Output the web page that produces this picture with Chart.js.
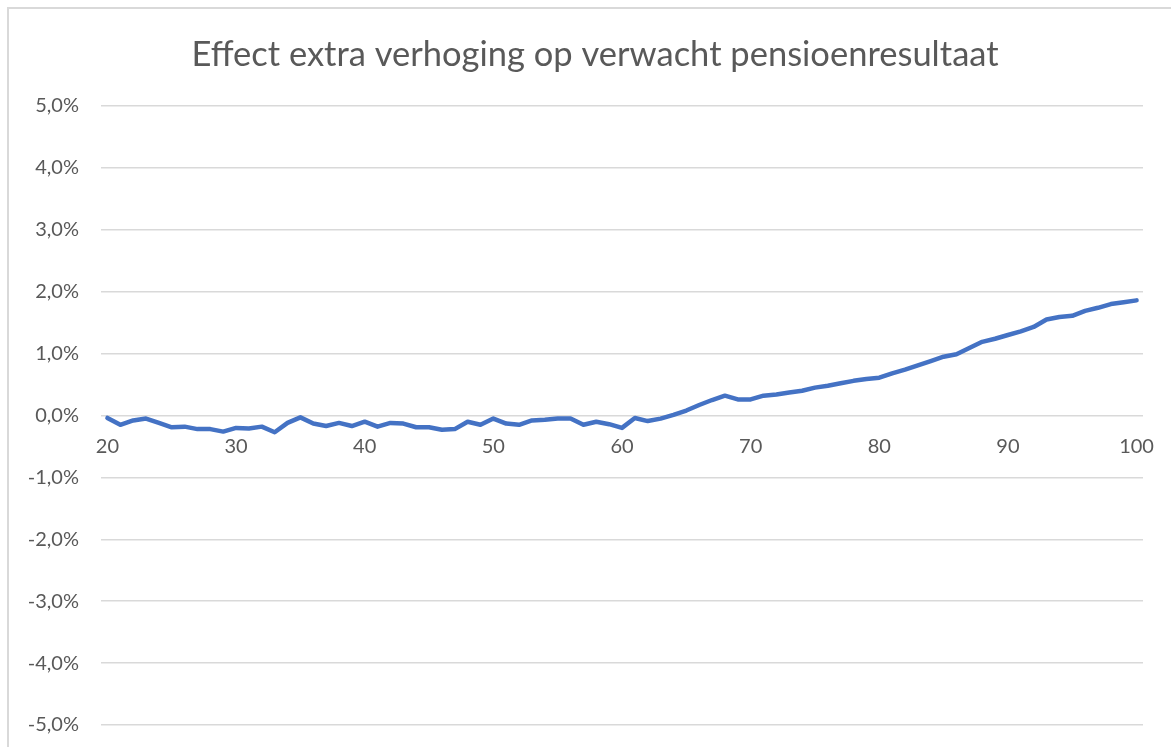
<!DOCTYPE html>
<html>
<head>
<meta charset="utf-8">
<script src="https://cdn.jsdelivr.net/npm/chart.js@4"></script>
<style>
  html, body { margin: 0; padding: 0; background: #fff; overflow: hidden; }
  #frame { position: absolute; left: 7px; top: 7px; width: 1300px; height: 900px;
           border: 2px solid #d9d9d9; box-sizing: border-box; }
  #wrap { position: absolute; left: 0; top: 0; width: 1171px; height: 747px; }
</style>
</head>
<body>
<div id="frame"></div>
<div id="wrap"><canvas id="lineChart" width="1171" height="747"></canvas></div>
<script>
// leeftijd (x-as)
var ages = [20, 21, 22, 23, 24, 25, 26, 27, 28, 29,
            30, 31, 32, 33, 34, 35, 36, 37, 38, 39,
            40, 41, 42, 43, 44, 45, 46, 47, 48, 49,
            50, 51, 52, 53, 54, 55, 56, 57, 58, 59,
            60, 61, 62, 63, 64, 65, 66, 67, 68, 69,
            70, 71, 72, 73, 74, 75, 76, 77, 78, 79,
            80, 81, 82, 83, 84, 85, 86, 87, 88, 89,
            90, 91, 92, 93, 94, 95, 96, 97, 98, 99, 100];

// effect in procenten
var effect = [-0.04, -0.15, -0.08, -0.05, -0.12, -0.19, -0.18, -0.22, -0.22, -0.26,
              -0.20, -0.21, -0.18, -0.27, -0.12, -0.03, -0.13, -0.17, -0.12, -0.17,
              -0.10, -0.18, -0.12, -0.13, -0.19, -0.19, -0.23, -0.22, -0.10, -0.15,
              -0.05, -0.13, -0.15, -0.08, -0.07, -0.05, -0.05, -0.15, -0.10, -0.14,
              -0.20, -0.04, -0.09, -0.05, 0.01, 0.08, 0.17, 0.25, 0.32, 0.26,
              0.26, 0.32, 0.34, 0.37, 0.40, 0.45, 0.48, 0.52, 0.56, 0.59,
              0.61, 0.68, 0.74, 0.81, 0.88, 0.95, 0.99, 1.09, 1.19, 1.24,
              1.30, 1.36, 1.43, 1.55, 1.59, 1.61, 1.69, 1.74, 1.80, 1.83, 1.86];

var yMin = -5;
var yMax = 5;
var title = 'Effect extra verhoging op verwacht pensioenresultaat';

var grey = '#595959';
var fontName = 'Lato, "Open Sans", sans-serif';

// titel gecentreerd boven het hele kader (niet alleen boven de plot)
var titlePlugin = {
    id: 'frameTitle',
    afterDraw: function (chart) {
        var ctx = chart.ctx;
        ctx.save();
        ctx.font = 'normal 34.5px ' + fontName;
        ctx.fillStyle = grey;
        ctx.textAlign = 'center';
        ctx.textBaseline = 'middle';
        ctx.fillText(title, 595, 54.5);
        ctx.restore();
    }
};

var context = document.getElementById('lineChart').getContext('2d');
var myChart = new Chart(context, {
    type: 'line',
    data: {
        labels: ages,
        datasets: [{
            label: 'effect',
            data: effect,
            borderColor: '#4472C4',
            backgroundColor: '#4472C4',
            borderWidth: 4.5,
            borderJoinStyle: 'round',
            borderCapStyle: 'round',
            pointRadius: 0,
            tension: 0,
            fill: false
        }]
    },
    plugins: [titlePlugin],
    options: {
        responsive: false,
        animation: false,
        layout: {
            padding: { left: 0, right: 28, top: 106, bottom: 22 }
        },
        plugins: {
            legend: { display: false },
            tooltip: { enabled: false },
            title: { display: false }
        },
        scales: {
            x: {
                type: 'category',
                position: { y: 0 },
                offset: true,
                grid: { display: false, drawTicks: false },
                border: { display: false },
                afterFit: function (scale) {
                    scale.height = 0;
                    scale.paddingLeft = 0;
                    scale.paddingRight = 0;
                    scale.paddingTop = 0;
                    scale.paddingBottom = 0;
                },
                ticks: {
                    autoSkip: false,
                    maxRotation: 0,
                    padding: 19,
                    color: grey,
                    font: { family: fontName, size: 20 },
                    callback: function (value) {
                        var a = this.getLabelForValue(value);
                        return a % 10 === 0 ? String(a) : null;
                    }
                }
            },
            y: {
                min: yMin,
                max: yMax,
                grid: { color: '#d9d9d9', lineWidth: 1.5, drawTicks: false },
                border: { display: false },
                afterFit: function (scale) {
                    scale.width = 101;
                    scale.paddingTop = 0;
                    scale.paddingBottom = 0;
                },
                ticks: {
                    stepSize: 1,
                    padding: 22,
                    color: grey,
                    font: { family: fontName, size: 20 },
                    callback: function (value) {
                        return value.toFixed(1).replace('.', ',') + '%';
                    }
                }
            }
        }
    }
});
</script>
</body>
</html>
